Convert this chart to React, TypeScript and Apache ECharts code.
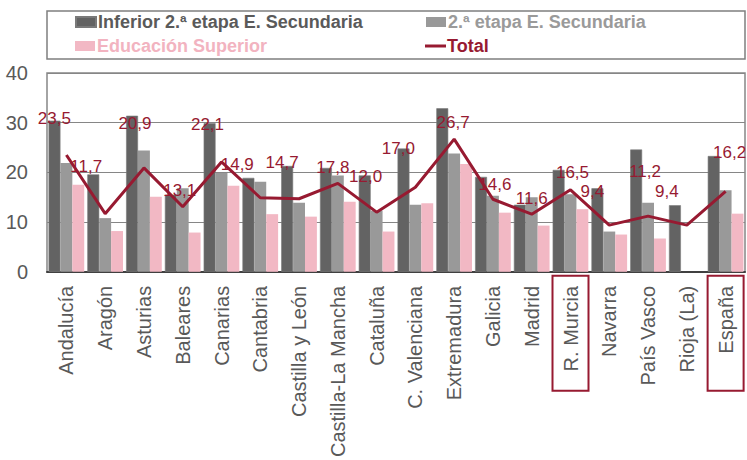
import React, { useEffect, useRef } from "react";
import * as echarts from "echarts";

const categories = [
  "Andalucía", "Aragón", "Asturias", "Baleares", "Canarias", "Cantabria",
  "Castilla y León", "Castilla-La Mancha", "Cataluña", "C. Valenciana",
  "Extremadura", "Galicia", "Madrid", "R. Murcia", "Navarra", "País Vasco",
  "Rioja (La)", "España",
];

const inferiorSecundaria = [30.4, 19.6, 31.4, 15.5, 29.9, 18.9, 21.3, 20.9, 19.4, 24.8, 32.9, 19.1, 13.5, 20.5, 16.8, 24.6, 13.4, 23.3];
const segundaEtapa = [21.9, 10.8, 24.4, 16.8, 19.9, 18.1, 13.9, 19.4, 12.3, 13.5, 23.8, 15.3, 15.0, 15.6, 8.1, 13.9, null, 16.4];
const educacionSuperior = [17.5, 8.2, 15.1, 7.9, 17.3, 11.6, 11.1, 14.1, 8.1, 13.8, 21.7, 11.9, 9.3, 12.6, 7.5, 6.7, null, 11.7];
const total = [23.5, 11.7, 20.9, 13.1, 22.1, 14.9, 14.7, 17.8, 12.0, 17.0, 26.7, 14.6, 11.6, 16.5, 9.4, 11.2, 9.4, 16.2];

const highlighted = ["R. Murcia", "España"];

// label nudges (styling only), relative to the default "top" label position
const totalLabelOffsets: [number, number][] = [
  [-12, -23], [-19, -33], [-9, -30], [-3, -2], [-14, -23], [-23, -19],
  [-17, -22], [-5, -2], [-11, -22], [-17, -25], [-1, -3], [2, -1],
  [0, -2], [2, -3], [-17, -20], [-3, -31], [-20, -20], [4, -25],
];

const C_DARK = "#636363";
const C_MID = "#999999";
const C_PINK = "#F2B8C4";
const C_RED = "#971A31";
const FONT = "Liberation Sans, Arial, sans-serif";

export default function App() {
  const ref = useRef<HTMLDivElement>(null);

  useEffect(() => {
    document.body.style.margin = "0";
    if (!ref.current) return;
    const chart = echarts.init(ref.current, undefined, { renderer: "svg" });

    const legendBase = {
      orient: "horizontal",
      itemWidth: 20,
      itemHeight: 10,
      selectedMode: false,
      padding: 0,
    };

    const fmt = (v: number) => v.toFixed(1).replace(".", ",");

    chart.setOption({
      animation: false,
      textStyle: { fontFamily: FONT },
      grid: { left: 47, right: 2, top: 73, bottom: 187, show: true, borderColor: "#868686", borderWidth: 1.5 },
      legend: [
        {
          ...legendBase, left: 75, top: 13,
          data: [{ name: "Inferior 2.ª etapa E. Secundaria", icon: "rect", textStyle: { color: "#5a5a5a" } }],
          textStyle: { fontSize: 18, fontWeight: "bold", fontFamily: FONT, padding: [0, 0, 0, -3] },
        },
        {
          ...legendBase, left: 426, top: 13,
          data: [{ name: "2.ª etapa E. Secundaria", icon: "rect", textStyle: { color: "#9a9a9a" } }],
          textStyle: { fontSize: 18, fontWeight: "bold", fontFamily: FONT, padding: [0, 0, 0, -3] },
        },
        {
          ...legendBase, left: 75, top: 37,
          data: [{ name: "Educación Superior", icon: "rect", textStyle: { color: "#F2B3C0" } }],
          textStyle: { fontSize: 18, fontWeight: "bold", fontFamily: FONT, padding: [0, 0, 0, -3] },
        },
        {
          ...legendBase, left: 425, top: 37, itemHeight: 3, itemWidth: 21,
          data: [{ name: "Total", icon: "rect", itemStyle: { color: C_RED }, textStyle: { color: C_RED } }],
          textStyle: { fontSize: 18, fontWeight: "bold", fontFamily: FONT, padding: [0, 0, 0, -4] },
        },
      ],
      xAxis: {
        type: "category",
        data: categories,
        axisLine: { lineStyle: { color: "#404040", width: 2 } },
        axisTick: { show: false },
        axisLabel: { rotate: 90, interval: 0, fontSize: 20, color: "#595959", margin: 14, fontFamily: FONT },
      },
      yAxis: {
        type: "value",
        min: 0,
        max: 40,
        interval: 10,
        axisLine: { show: false },
        axisTick: { show: false },
        axisLabel: { fontSize: 20, color: "#595959", margin: 19, fontFamily: FONT },
        splitLine: { lineStyle: { color: "#868686", width: 1 } },
      },
      series: [
        {
          name: "Inferior 2.ª etapa E. Secundaria",
          type: "bar",
          data: inferiorSecundaria,
          barGap: "0%",
          barCategoryGap: "8%",
          itemStyle: { color: C_DARK, borderColor: "#7a7a7a", borderWidth: 0.6 },
        },
        {
          name: "2.ª etapa E. Secundaria",
          type: "bar",
          data: segundaEtapa,
          barGap: "0%",
          barCategoryGap: "8%",
          itemStyle: { color: C_MID },
        },
        {
          name: "Educación Superior",
          type: "bar",
          data: educacionSuperior,
          barGap: "0%",
          barCategoryGap: "8%",
          itemStyle: { color: C_PINK },
        },
        {
          name: "Total",
          type: "line",
          data: total.map((v, i) => ({
            value: v,
            label: { offset: totalLabelOffsets[i] },
          })),
          symbol: "circle",
          symbolSize: 1,
          showSymbol: true,
          lineStyle: { color: C_RED, width: 3 },
          itemStyle: { color: "rgba(0,0,0,0)", borderWidth: 0 },
          z: 5,
          label: {
            show: true,
            position: "top",
            distance: 5,
            fontSize: 17,
            color: C_RED,
            fontFamily: FONT,
            formatter: (p: any) => fmt(p.value),
          },
        },
      ],
    });

    const baseY = chart.convertToPixel({ yAxisIndex: 0 }, 0) as number;
    const boxes = highlighted.map((name) => {
      const cx = chart.convertToPixel({ xAxisIndex: 0 }, name) as number;
      return {
        type: "rect",
        shape: { x: cx - 18, y: baseY + 4, width: 36, height: 115 },
        style: { fill: "none", stroke: C_RED, lineWidth: 2 },
        z: 10,
      };
    });

    chart.setOption({
      graphic: [
        {
          type: "rect",
          shape: { x: 47, y: 11, width: 698, height: 48 },
          style: { fill: "none", stroke: "#7f7f7f", lineWidth: 1.5 },
          z: 0,
        },
        ...boxes,
      ],
    });

    return () => chart.dispose();
  }, []);

  return <div ref={ref} style={{ width: 747, height: 460 }} />;
}
